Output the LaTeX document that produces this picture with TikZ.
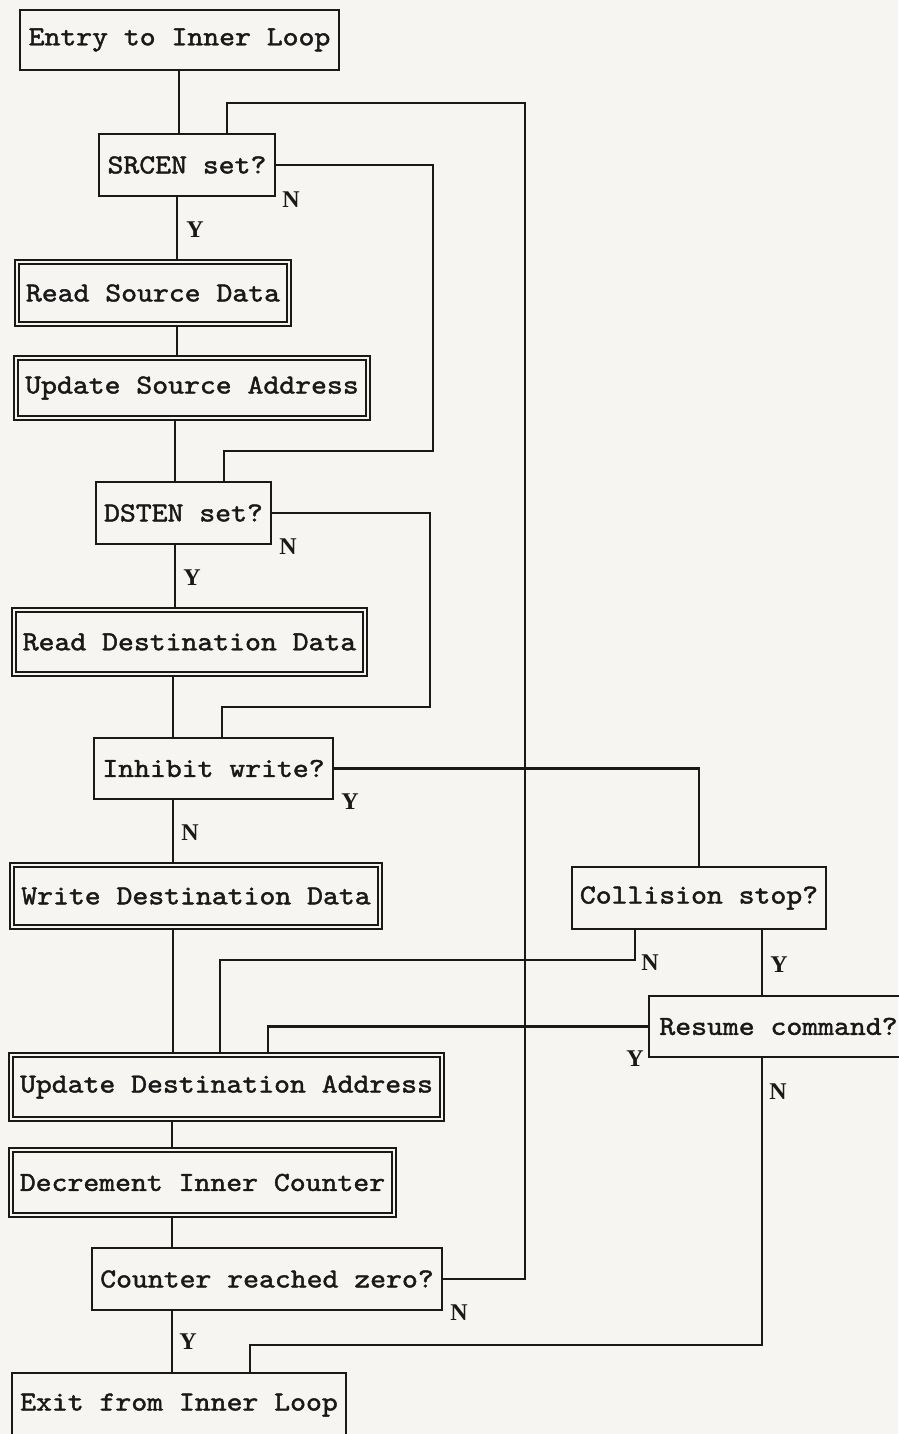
\documentclass[tikz,border=0pt]{standalone}
\usepackage{fontspec}
\newfontfamily\boxfont{lmmono10-regular.otf}[FakeStretch=1.1, FakeBold=1.6]
\newfontfamily\lblfont{Liberation Serif}
\definecolor{paper}{RGB}{246,245,241}
\definecolor{ink}{RGB}{25,25,25}
\tikzset{
  base/.style={draw=ink, inner sep=0pt, align=center, text=ink,
    font=\boxfont\fontsize{27.5}{30}\selectfont},
  single/.style={base, line width=2.3pt},
  dbl/.style={base, double=paper, line width=1.8pt, double distance=2.4pt},
  conn/.style={draw=ink, line width=2.3pt},
  lbl/.style={text=ink, inner sep=0pt, font=\lblfont\bfseries\fontsize{24}{26}\selectfont}
}
\begin{document}
\begin{tikzpicture}[x=1pt,y=-1pt]
\fill[paper] (0,0) rectangle (898,1434);
\useasboundingbox (0,0) rectangle (898,1434);

% boxes
\node[single, minimum width=319, minimum height=60] (entry) at (179.5,40) {Entry to Inner Loop};
\node[single, minimum width=176, minimum height=62] (srcen) at (187,165) {SRCEN set?};
\node[dbl, minimum width=272, minimum height=62] (rsd) at (153,293) {Read Source Data};
\node[dbl, minimum width=352, minimum height=60] (usa) at (192,388) {Update Source Address};
\node[single, minimum width=175, minimum height=62] (dsten) at (183.5,513) {DSTEN set?};
\node[dbl, minimum width=351, minimum height=64] (rdd) at (189.5,642) {Read Destination Data};
\node[single, minimum width=239, minimum height=61] (inhibit) at (213.5,768.5) {Inhibit write?};
\node[dbl, minimum width=368, minimum height=62] (wdd) at (196,896) {Write Destination Data};
\node[single, minimum width=254, minimum height=62] (collision) at (699,898) {Collision stop?};
\node[single, minimum width=259, minimum height=61] (resume) at (778.5,1026.5) {Resume command?};
\node[dbl, minimum width=431, minimum height=64] (uda) at (226.5,1087) {Update Destination Address};
\node[dbl, minimum width=383, minimum height=65] (dic) at (202.5,1182.5) {Decrement Inner Counter};
\node[single, minimum width=350, minimum height=62] (counter) at (267,1279) {Counter reached zero?};
\node[single, minimum width=334, minimum height=64] (exit) at (179,1405) {Exit from Inner Loop};

% spine coordinates
\coordinate (s1) at (179,0);
\coordinate (s2) at (177,0);
\coordinate (s3) at (175,0);
\coordinate (s4) at (173,0);
\coordinate (s5) at (172,0);

% main spine
\draw[conn] (entry.south -| s1) -- (srcen.north -| s1);
\draw[conn] (srcen.south -| s2) -- (rsd.north -| s2);
\draw[conn] (rsd.south -| s2) -- (usa.north -| s2);
\draw[conn] (usa.south -| s3) -- (dsten.north -| s3);
\draw[conn] (dsten.south -| s3) -- (rdd.north -| s3);
\draw[conn] (rdd.south -| s4) -- (inhibit.north -| s4);
\draw[conn] (inhibit.south -| s4) -- (wdd.north -| s4);
\draw[conn] (wdd.south -| s4) -- (uda.north -| s4);
\draw[conn] (uda.south -| s5) -- (dic.north -| s5);
\draw[conn] (dic.south -| s5) -- (counter.north -| s5);
\draw[conn] (counter.south -| s5) -- (exit.north -| s5);

% loop-back and branches
\coordinate (bigloop) at (525,103);
\draw[conn] (counter.east) -| (bigloop) -| ([xshift=40pt]srcen.north);

\coordinate (srcN) at (433,451);
\draw[conn] (srcen.east) -| (srcN) -| ([xshift=40.5pt]dsten.north);

\coordinate (dstN) at (430,707);
\draw[conn] (dsten.east) -| (dstN) -| ([xshift=8.5pt]inhibit.north);

\draw[conn] (inhibit.east) -| (collision.north);

\draw[conn] ([xshift=-64pt]collision.south) -- ++(0,30) -| ([xshift=-6.5pt]uda.north);
\draw[conn] ([xshift=63pt]collision.south) -- ([xshift=-16.5pt]resume.north);
\draw[conn] (resume.west) -| ([xshift=41.5pt]uda.north);
\draw[conn] ([xshift=-16.5pt]resume.south) -- ++(0,287) -| ([xshift=71pt]exit.north);

% labels
\node[lbl] (l1) at (291,200) {N};
\node[lbl] (l2) at (195,230) {Y};
\node[lbl] (l3) at (288,547) {N};
\node[lbl] (l4) at (192,578) {Y};
\node[lbl] (l5) at (350,802) {Y};
\node[lbl] (l6) at (190,833) {N};
\node[lbl] (l7) at (650,963) {N};
\node[lbl] (l8) at (779,965) {Y};
\node[lbl] (l9) at (635,1059) {Y};
\node[lbl] (l10) at (778,1092) {N};
\node[lbl] (l11) at (459,1313) {N};
\node[lbl] (l12) at (188,1342) {Y};
\end{tikzpicture}
\end{document}
